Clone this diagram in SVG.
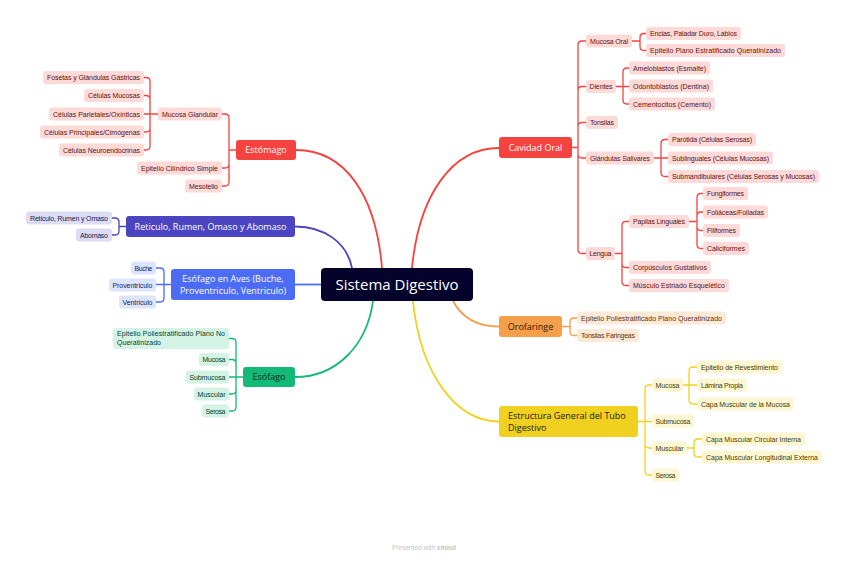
<svg xmlns="http://www.w3.org/2000/svg" width="848" height="562" viewBox="0 0 848 562">
<style>
.lf{font-family:"Liberation Sans","Open Sans",sans-serif;font-size:7px;text-anchor:middle}
.mt{font-family:"Open Sans","Liberation Sans",sans-serif;font-size:9px;fill:#fff;text-anchor:middle}
.cn{fill:none;stroke-width:1.3}
.mc{fill:none;stroke-width:1.8}
.r .b{fill:#fdd9d8}.r text.lf{fill:#5b1412}
.p .b{fill:#dddcf5}.p text.lf{fill:#1c1a4a}
.u .b{fill:#dde4fd}.u text.lf{fill:#16225a}
.g .b{fill:#d3f3e5}.g text.lf{fill:#0a3d29}
.o .b{fill:#fde9d8}.o text.lf{fill:#5a3210}
.y .b{fill:#fdf6d2}.y text.lf{fill:#4a3d00}
</style>
<rect width="848" height="562" fill="#fff"/>
<g id="connectors">
<path class="mc" stroke="#f5433f" d="M296,150 C345,150 376,195 382,268"/>
<path class="mc" stroke="#f5433f" d="M499,148 C452,148 419,195 412,268"/>
<path class="mc" stroke="#4b45c1" d="M295,226.5 C325,226.5 347,243 352,268"/>
<path class="mc" stroke="#4c6cf5" d="M295,284.5 H321"/>
<path class="mc" stroke="#13b977" d="M373,301 C367,345 337,377 295,377"/>
<path class="mc" stroke="#f1d11f" d="M413,301 C420,372 455,421.5 499,421.5"/>
<path class="mc" stroke="#f59f4b" d="M453,301 C462,318 478,326.5 499,326.5"/>
<path class="cn" stroke="#f5433f" d="M236,150 H229 V118 Q229,114 225,114 H222 M236,150 H229 V164 Q229,168 225,168 H222 M236,150 H229 V182 Q229,186 225,186 H222"/>
<path class="cn" stroke="#f5433f" d="M158,114 H150 V81.5 Q150,77.5 146,77.5 H144 M158,114 H150 V99.5 Q150,95.5 146,95.5 H144 M158,114 H144 M158,114 H150 V128 Q150,132 146,132 H144 M158,114 H150 V146 Q150,150 146,150 H144"/>
<path class="cn" stroke="#4b45c1" d="M126,226.5 H119 V222 Q119,218 115,218 H112 M126,226.5 H119 V231 Q119,235 115,235 H112"/>
<path class="cn" stroke="#4c6cf5" d="M171,284.5 H164 V272 Q164,268 160,268 H156 M171,284.5 H156 M171,284.5 H164 V298 Q164,302 160,302 H156"/>
<path class="cn" stroke="#13b977" d="M243,377 H236 V342.5 Q236,338.5 232,338.5 H229 M243,377 H236 V363.5 Q236,359.5 232,359.5 H229 M243,377 H229 M243,377 H236 V390 Q236,394 232,394 H229 M243,377 H236 V407 Q236,411 232,411 H229"/>
<path class="cn" stroke="#f5433f" d="M572,147.5 H578 V45 Q578,41 582,41 H586 M572,147.5 H578 V90.5 Q578,86.5 582,86.5 H586 M572,147.5 H578 V126.5 Q578,122.5 582,122.5 H586 M572,147.5 H578 V154 Q578,158 582,158 H586 M572,147.5 H578 V249.5 Q578,253.5 582,253.5 H586"/>
<path class="cn" stroke="#f5433f" d="M632,41 H640 V37.5 Q640,33.5 644,33.5 H646 M632,41 H640 V46.5 Q640,50.5 644,50.5 H646"/>
<path class="cn" stroke="#f5433f" d="M616,86.5 H623 V72 Q623,68 627,68 H629 M616,86.5 H629 M616,86.5 H623 V100 Q623,104 627,104 H629"/>
<path class="cn" stroke="#f5433f" d="M654,158 H661 V143.5 Q661,139.5 665,139.5 H668 M654,158 H668 M654,158 H661 V172.5 Q661,176.5 665,176.5 H668"/>
<path class="cn" stroke="#f5433f" d="M615,253.5 H622 V225.5 Q622,221.5 626,221.5 H629 M615,253.5 H622 V263.5 Q622,267.5 626,267.5 H629 M615,253.5 H622 V281.5 Q622,285.5 626,285.5 H629"/>
<path class="cn" stroke="#f5433f" d="M689,221.5 H697 V197.5 Q697,193.5 701,193.5 H703 M689,221.5 H697 V216 Q697,212 701,212 H703 M689,221.5 H697 V226.5 Q697,230.5 701,230.5 H703 M689,221.5 H697 V244.5 Q697,248.5 701,248.5 H703"/>
<path class="cn" stroke="#f59f4b" d="M562,326.5 H570 V322 Q570,318 574,318 H577 M562,326.5 H570 V331.5 Q570,335.5 574,335.5 H577"/>
<path class="cn" stroke="#f1d11f" d="M638,421.5 H645 V389 Q645,385 649,385 H652 M638,421.5 H652 M638,421.5 H645 V444 Q645,448 649,448 H652 M638,421.5 H645 V471 Q645,475 649,475 H652"/>
<path class="cn" stroke="#f1d11f" d="M683,385 H689 V371 Q689,367 693,367 H697 M683,385 H697 M683,385 H689 V400 Q689,404 693,404 H697"/>
<path class="cn" stroke="#f1d11f" d="M687,448 H694 V443 Q694,439 698,439 H702 M687,448 H694 V453 Q694,457 698,457 H702"/>
</g>

<g id="central">
<rect x="321" y="268" width="152" height="33" rx="4" fill="#05032b"/>
<text x="397" y="289.5" style="font-family:'Open Sans','Liberation Sans',sans-serif;font-size:15px;fill:#fff;text-anchor:middle">Sistema Digestivo</text>
</g>

<g id="estomago" class="r">
<rect x="236" y="140" width="60" height="20" rx="3" fill="#f5433f"/>
<text class="mt" x="266" y="153.3">Estómago</text>
</g>
<g id="mucosa-glandular" class="r"><rect class="b" x="158" y="107.5" width="64" height="13" rx="3"/><text class="lf" x="190" y="116.5" textLength="56">Mucosa Glandular</text></g>
<g id="fosetas" class="r"><rect class="b" x="43" y="71" width="101" height="13" rx="3"/><text class="lf" x="93.5" y="80" textLength="93">Fosetas y Glándulas Gástricas</text></g>
<g id="cel-mucosas" class="r"><rect class="b" x="84" y="89" width="60" height="13" rx="3"/><text class="lf" x="114" y="98" textLength="52">Células Mucosas</text></g>
<g id="cel-parietales" class="r"><rect class="b" x="49" y="107.5" width="95" height="13" rx="3"/><text class="lf" x="96.5" y="116.5" textLength="87">Células Parietales/Oxínticas</text></g>
<g id="cel-principales" class="r"><rect class="b" x="40" y="125.5" width="104" height="13" rx="3"/><text class="lf" x="92" y="134.5" textLength="96">Células Principales/Cimógenas</text></g>
<g id="cel-neuro" class="r"><rect class="b" x="59" y="143.5" width="85" height="13" rx="3"/><text class="lf" x="101.5" y="152.5" textLength="77">Células Neuroendocrinas</text></g>
<g id="epitelio-cilindrico" class="r"><rect class="b" x="137" y="161.5" width="85" height="13" rx="3"/><text class="lf" x="179.5" y="170.5" textLength="77">Epitelio Cilíndrico Simple</text></g>
<g id="mesotelio" class="r"><rect class="b" x="185" y="179.5" width="37" height="13" rx="3"/><text class="lf" x="203.5" y="188.5" textLength="29">Mesotelio</text></g>

<g id="reticulo" class="p">
<rect x="126" y="216" width="169" height="21" rx="3" fill="#4b45c1"/>
<text class="mt" x="210.5" y="229.8">Reticulo, Rumen, Omaso y Abomaso</text>
</g>
<g id="reticulo-rumen-omaso" class="p"><rect class="b" x="26" y="211.5" width="86" height="13" rx="3"/><text class="lf" x="69" y="220.5" textLength="78">Reticulo, Rumen y Omaso</text></g>
<g id="abomaso" class="p"><rect class="b" x="76" y="228.5" width="36" height="13" rx="3"/><text class="lf" x="94" y="237.5" textLength="28">Abomaso</text></g>

<g id="esofago-aves" class="u">
<rect x="171" y="269" width="124" height="31" rx="3" fill="#4c6cf5"/>
<text class="mt" x="233" y="282">Esófago en Aves (Buche,</text>
<text class="mt" x="233" y="294">Proventriculo, Ventriculo)</text>
</g>
<g id="buche" class="u"><rect class="b" x="131" y="261.5" width="25" height="13" rx="3"/><text class="lf" x="143.5" y="270.5" textLength="18">Buche</text></g>
<g id="proventriculo" class="u"><rect class="b" x="109" y="278.5" width="47" height="13" rx="3"/><text class="lf" x="132.5" y="287.5" textLength="40">Proventriculo</text></g>
<g id="ventriculo" class="u"><rect class="b" x="119" y="295.5" width="37" height="13" rx="3"/><text class="lf" x="137.5" y="304.5" textLength="30">Ventriculo</text></g>

<g id="esofago" class="g">
<rect x="243" y="367" width="52" height="20" rx="3" fill="#13b977"/>
<text class="mt" x="269" y="380.3" style="fill:#062a1c">Esófago</text>
</g>
<g id="epitelio-poli-no-q" class="g"><rect class="b" x="113" y="328" width="116" height="21" rx="3"/>
<text class="lf" x="117" y="336" style="text-anchor:start" textLength="108">Epitelio Poliestratificado Plano No</text>
<text class="lf" x="117" y="344.5" style="text-anchor:start" textLength="44">Queratinizado</text></g>
<g id="eso-mucosa" class="g"><rect class="b" x="199" y="353" width="30" height="13" rx="3"/><text class="lf" x="214" y="362" textLength="23">Mucosa</text></g>
<g id="eso-submucosa" class="g"><rect class="b" x="186" y="370.5" width="43" height="13" rx="3"/><text class="lf" x="207.5" y="379.5" textLength="36">Submucosa</text></g>
<g id="eso-muscular" class="g"><rect class="b" x="194" y="387.5" width="35" height="13" rx="3"/><text class="lf" x="211.5" y="396.5" textLength="28">Muscular</text></g>
<g id="eso-serosa" class="g"><rect class="b" x="202" y="404.5" width="27" height="13" rx="3"/><text class="lf" x="215.5" y="413.5" textLength="20">Serosa</text></g>

<g id="cavidad-oral" class="r">
<rect x="499" y="137" width="73" height="21" rx="3" fill="#f5433f"/>
<text class="mt" x="535.5" y="150.8">Cavidad Oral</text>
</g>
<g id="mucosa-oral" class="r"><rect class="b" x="586" y="34.5" width="46" height="13" rx="3"/><text class="lf" x="609" y="43.5" textLength="38">Mucosa Oral</text></g>
<g id="encias" class="r"><rect class="b" x="646" y="27" width="95" height="13" rx="3"/><text class="lf" x="693.5" y="36" textLength="87">Encias, Paladar Duro, Labios</text></g>
<g id="epitelio-plano-q" class="r"><rect class="b" x="646" y="44" width="139" height="13" rx="3"/><text class="lf" x="715.5" y="53" textLength="131">Epitelio Plano Estratificado Queratinizado</text></g>
<g id="dientes" class="r"><rect class="b" x="586" y="80" width="30" height="13" rx="3"/><text class="lf" x="601" y="89" textLength="23">Dientes</text></g>
<g id="ameloblastos" class="r"><rect class="b" x="629" y="61.5" width="81" height="13" rx="3"/><text class="lf" x="669.5" y="70.5" textLength="73">Ameloblastos (Esmalte)</text></g>
<g id="odontoblastos" class="r"><rect class="b" x="629" y="79.5" width="84" height="13" rx="3"/><text class="lf" x="671" y="88.5" textLength="76">Odontoblastos (Dentina)</text></g>
<g id="cementocitos" class="r"><rect class="b" x="629" y="97.5" width="86" height="13" rx="3"/><text class="lf" x="672" y="106.5" textLength="78">Cementocitos (Cemento)</text></g>
<g id="tonsilas" class="r"><rect class="b" x="586" y="116" width="32" height="13" rx="3"/><text class="lf" x="602" y="125" textLength="24">Tonsilas</text></g>
<g id="glandulas" class="r"><rect class="b" x="586" y="151.5" width="68" height="13" rx="3"/><text class="lf" x="620" y="160.5" textLength="60">Glándulas Salivares</text></g>
<g id="parotida" class="r"><rect class="b" x="668" y="133" width="88" height="13" rx="3"/><text class="lf" x="712" y="142" textLength="80">Parótida (Células Serosas)</text></g>
<g id="sublinguales" class="r"><rect class="b" x="668" y="151.5" width="105" height="13" rx="3"/><text class="lf" x="720.5" y="160.5" textLength="97">Sublinguales (Células Mucosas)</text></g>
<g id="submandibulares" class="r"><rect class="b" x="668" y="170" width="151" height="13" rx="3"/><text class="lf" x="743.5" y="179" textLength="143">Submandibulares (Células Serosas y Mucosas)</text></g>
<g id="lengua" class="r"><rect class="b" x="586" y="247" width="29" height="13" rx="3"/><text class="lf" x="600.5" y="256" textLength="22">Lengua</text></g>
<g id="papilas" class="r"><rect class="b" x="629" y="215" width="60" height="13" rx="3"/><text class="lf" x="659" y="224" textLength="52">Papilas Linguales</text></g>
<g id="fungiformes" class="r"><rect class="b" x="703" y="187" width="45" height="13" rx="3"/><text class="lf" x="725.5" y="196" textLength="37">Fungiformes</text></g>
<g id="foliaceas" class="r"><rect class="b" x="703" y="205.5" width="65" height="13" rx="3"/><text class="lf" x="735.5" y="214.5" textLength="57">Foliáceas/Foliadas</text></g>
<g id="filiformes" class="r"><rect class="b" x="703" y="224" width="37" height="13" rx="3"/><text class="lf" x="721.5" y="233" textLength="29">Filiformes</text></g>
<g id="caliciformes" class="r"><rect class="b" x="703" y="242" width="46" height="13" rx="3"/><text class="lf" x="726" y="251" textLength="38">Caliciformes</text></g>
<g id="corpusculos" class="r"><rect class="b" x="629" y="261" width="82" height="13" rx="3"/><text class="lf" x="670" y="270" textLength="74">Corpúsculos Gustativos</text></g>
<g id="musculo-estriado" class="r"><rect class="b" x="629" y="279" width="100" height="13" rx="3"/><text class="lf" x="679" y="288" textLength="92">Músculo Estriado Esquelético</text></g>

<g id="orofaringe" class="o">
<rect x="499" y="316" width="63" height="21" rx="3" fill="#f59f4b"/>
<text class="mt" x="530.5" y="329.8" style="fill:#2a1a0a">Orofaringe</text>
</g>
<g id="oro-epitelio" class="o"><rect class="b" x="577" y="311.5" width="149" height="13" rx="3"/><text class="lf" x="651.5" y="320.5" textLength="141">Epitelio Poliestratificado Plano Queratinizado</text></g>
<g id="oro-tonsilas" class="o"><rect class="b" x="577" y="329" width="62" height="13" rx="3"/><text class="lf" x="608" y="338" textLength="54">Tonsilas Faringeas</text></g>

<g id="estructura" class="y">
<rect x="499" y="406" width="139" height="31" rx="3" fill="#f1d11f"/>
<text class="mt" x="508" y="419" style="fill:#1a1a1a;text-anchor:start">Estructura General del Tubo</text>
<text class="mt" x="508" y="431" style="fill:#1a1a1a;text-anchor:start">Digestivo</text>
</g>
<g id="est-mucosa" class="y"><rect class="b" x="652" y="378.5" width="31" height="13" rx="3"/><text class="lf" x="667.5" y="387.5" textLength="24">Mucosa</text></g>
<g id="epitelio-revestimiento" class="y"><rect class="b" x="697" y="360.5" width="85" height="13" rx="3"/><text class="lf" x="739.5" y="369.5" textLength="77">Epitelio de Revestimiento</text></g>
<g id="lamina-propia" class="y"><rect class="b" x="697" y="378.5" width="50" height="13" rx="3"/><text class="lf" x="722" y="387.5" textLength="42">Lámina Propia</text></g>
<g id="capa-muscular-mucosa" class="y"><rect class="b" x="697" y="397.5" width="97" height="13" rx="3"/><text class="lf" x="745.5" y="406.5" textLength="89">Capa Muscular de la Mucosa</text></g>
<g id="est-submucosa" class="y"><rect class="b" x="652" y="414.5" width="42" height="13" rx="3"/><text class="lf" x="673" y="423.5" textLength="35">Submucosa</text></g>
<g id="est-muscular" class="y"><rect class="b" x="652" y="441.5" width="35" height="13" rx="3"/><text class="lf" x="669.5" y="450.5" textLength="28">Muscular</text></g>
<g id="capa-circular" class="y"><rect class="b" x="702" y="432.5" width="103" height="13" rx="3"/><text class="lf" x="753.5" y="441.5" textLength="95">Capa Muscular Circular Interna</text></g>
<g id="capa-longitudinal" class="y"><rect class="b" x="702" y="450.5" width="120" height="13" rx="3"/><text class="lf" x="762" y="459.5" textLength="112">Capa Muscular Longitudinal Externa</text></g>
<g id="est-serosa" class="y"><rect class="b" x="652" y="468.5" width="27" height="13" rx="3"/><text class="lf" x="665.5" y="477.5" textLength="20">Serosa</text></g>

<text x="424" y="550" style="font-family:'Liberation Sans',sans-serif;font-size:6.5px;fill:#c4c4c4;text-anchor:middle">Presented with <tspan font-weight="bold">xmind</tspan></text>
</svg>
